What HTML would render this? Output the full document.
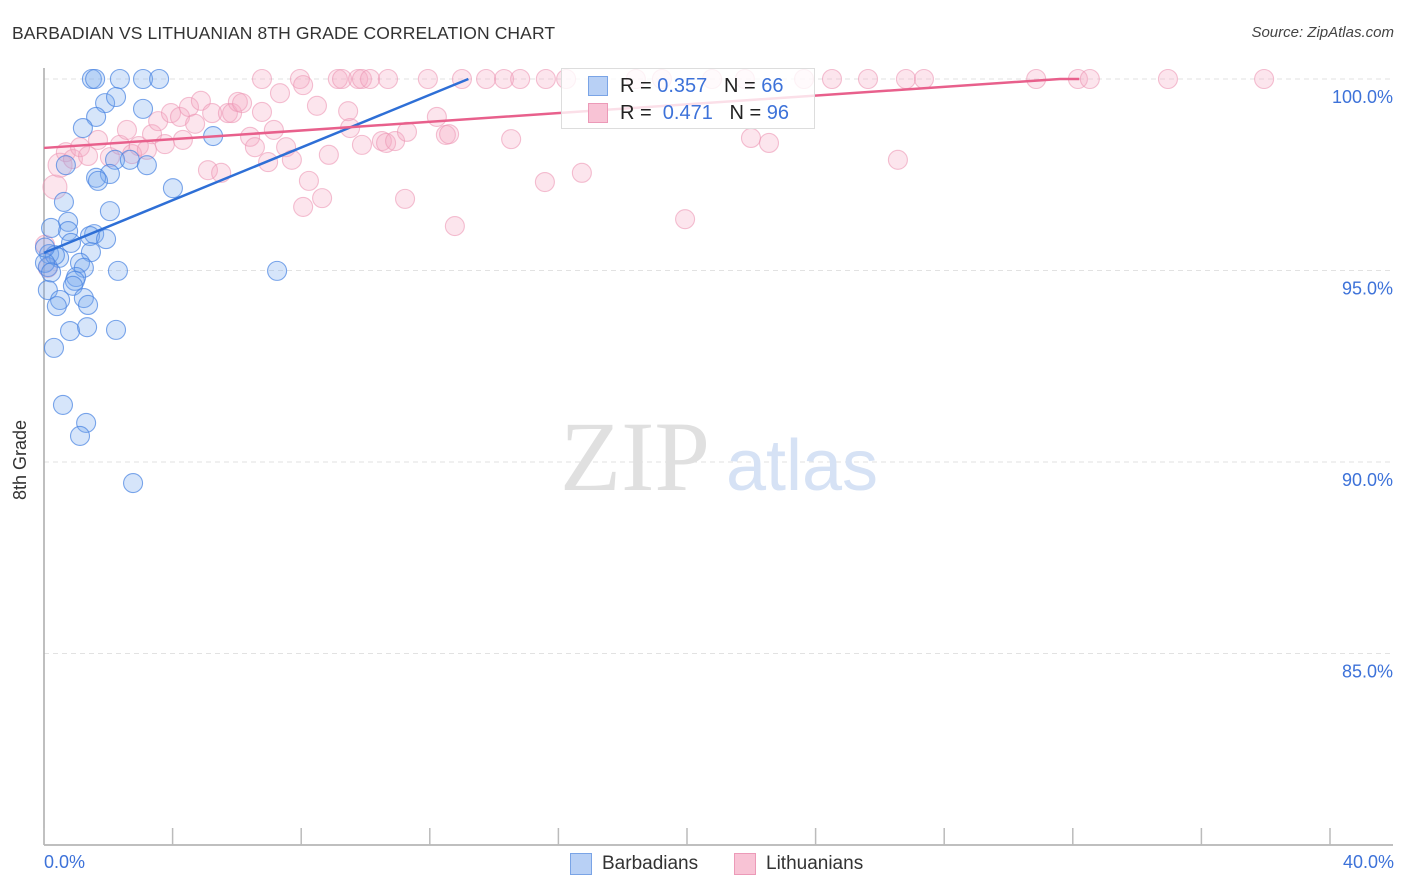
<!DOCTYPE html>
<html><head><meta charset="utf-8">
<style>
body{margin:0;background:#fff;font-family:"Liberation Sans",sans-serif;}
#wrap{position:relative;width:1406px;height:892px;overflow:hidden;}
.t{position:absolute;white-space:nowrap;}
</style></head>
<body>
<div id="wrap">
<div class="t" style="left:12px;top:23px;font-size:17.5px;color:#333;letter-spacing:0.1px">BARBADIAN VS LITHUANIAN 8TH GRADE CORRELATION CHART</div>
<div class="t" style="right:12px;top:24px;font-size:15px;color:#444;font-style:italic">Source: ZipAtlas.com</div>
<svg id="svg" width="1406" height="892" style="position:absolute;left:0;top:0"></svg>
</div>
<script>
const bx=[1.49,1.59,2.36,3.08,3.58,1.90,2.24,3.08,1.62,1.21,5.26,2.21,2.67,3.20,0.68,2.05,1.62,1.68,4.01,0.62,2.05,0.22,0.75,0.75,1.56,1.43,1.93,0.84,1.46,0.16,0.47,1.12,0.12,1.24,2.30,7.25,1.00,0.96,0.90,0.12,1.24,0.50,0.40,1.37,0.81,1.34,2.24,0.31,0.59,1.31,1.12,2.77,0.34,0.03,0.22,0.03];
const by=[100,100,100,100,100,99.37,99.53,99.22,99.01,98.72,98.51,97.89,97.89,97.75,97.75,97.52,97.42,97.34,97.15,96.79,96.55,96.11,96.27,96.03,95.95,95.90,95.82,95.72,95.48,95.43,95.33,95.20,95.09,95.07,94.99,94.99,94.83,94.73,94.60,94.49,94.28,94.23,94.07,94.10,93.42,93.52,93.45,92.98,91.49,91.02,90.68,89.45,95.40,95.20,94.95,95.60];
const px=[6.78,7.96,9.14,9.27,9.77,9.89,10.14,10.70,11.94,13.00,13.75,14.31,14.81,15.61,16.24,18.41,19.22,20.78,21.80,23.64,24.51,25.63,26.81,27.37,30.86,32.16,32.53,34.96,37.95,
0.34,0.50,0.68,0.90,1.12,1.37,1.68,2.05,2.36,2.58,2.74,2.95,3.20,3.36,3.55,3.76,3.95,4.23,4.32,4.51,4.70,4.88,5.10,5.23,5.51,5.72,5.85,6.03,6.16,6.41,6.56,6.78,6.97,7.15,7.34,7.53,7.71,8.06,8.06,8.24,8.49,8.65,8.86,9.46,9.52,9.89,10.51,10.64,10.92,11.23,11.29,12.22,12.50,12.60,12.78,14.53,15.58,16.73,19.94,21.99,22.55,26.56,0.03,0.12];
const py=[100,100,100,100,100,100,100,100,100,100,100,100,100,100,100,100,100,100,100,100,100,100,100,100,100,100,100,100,100,
97.18,97.75,98.09,97.91,98.22,97.99,98.41,97.96,98.28,98.67,98.04,98.25,98.15,98.56,98.90,98.30,99.11,99.01,98.41,99.27,98.83,99.43,97.62,99.11,97.55,99.11,99.11,99.40,99.37,98.49,98.22,99.14,97.83,98.67,99.63,98.22,97.89,99.84,96.66,97.34,99.30,96.89,98.02,99.16,98.72,98.28,98.38,98.33,98.38,96.87,98.62,99.01,98.54,98.56,96.16,98.43,97.31,97.55,96.34,98.46,98.33,97.89,95.67,95.07];
const blueTrendX=[0,13.2];
const blueTrendY=[95.46,100];
const pinkTrendX=[0,31.6,32.2];
const pinkTrendY=[98.20,100,100];
const yTicks=[100,95,90,85];
const yTickLabels=["100.0%","95.0%","90.0%","85.0%"];

const X=v=>44+v/40*1286;
const Y=v=>79+(100-v)*38.3;
const svg=document.getElementById('svg');
const NS='http://www.w3.org/2000/svg';
function mk(tag,attrs){const e=document.createElementNS(NS,tag);for(const k in attrs)e.setAttribute(k,attrs[k]);svg.appendChild(e);return e;}

yTicks.forEach((t,i)=>{
  const g=mk('line',{x1:44,x2:1393,y1:Y(t),y2:Y(t),stroke:'#e2e2e2','stroke-dasharray':'5,4'});
  
  
  const tx=mk('text',{x:1393,y:Y(t)+24,'text-anchor':'end','font-size':18,fill:'#3d72d9','font-family':'Liberation Sans, sans-serif'});
  tx.textContent=yTickLabels[i];
  
  
});
let ax=mk('line',{x1:44,x2:44,y1:68,y2:845,stroke:'#aaa','stroke-width':1.5});


ax=mk('line',{x1:44,x2:1393,y1:845,y2:845,stroke:'#aaa','stroke-width':1.5});


for(let i=0;i<=10;i++){
  const tk=mk('line',{x1:X(i*4),x2:X(i*4),y1:828,y2:845,stroke:'#bbb','stroke-width':1.5});
  
  
}
let wm=mk('text',{x:635,y:490,'text-anchor':'middle','font-size':100,fill:'#e0e0e0','font-family':'Liberation Serif, serif'});
wm.textContent='ZIP';


wm=mk('text',{x:802,y:490,'text-anchor':'middle','font-size':72,fill:'#d6e2f5','font-family':'Liberation Sans, sans-serif'});
wm.textContent='atlas';



px.forEach((v,i)=>{
  const r=(i===29||i===30)?12:9.5;
  const c=mk('circle',{cx:X(v),cy:Y(py[i]),r:r,fill:'rgba(246,170,196,0.3)',stroke:'rgba(236,150,180,0.6)','stroke-width':1.1});
  
  
});
bx.forEach((v,i)=>{
  const c=mk('circle',{cx:X(v),cy:Y(by[i]),r:9.5,fill:'rgba(120,168,238,0.3)',stroke:'rgba(70,130,225,0.7)','stroke-width':1.1});
  
  
});
let tl=mk('polyline',{points:blueTrendX.map((v,i)=>X(v)+','+Y(blueTrendY[i])).join(' '),fill:'none',stroke:'#2e6fd6','stroke-width':2.5});


tl=mk('polyline',{points:pinkTrendX.map((v,i)=>X(v)+','+Y(pinkTrendY[i])).join(' '),fill:'none',stroke:'#e8608c','stroke-width':2.5});


</script>
<div class="t" style="left:561px;top:68px;width:254px;height:61px;background:rgba(255,255,255,0.8);border:1px solid #ddd;box-sizing:border-box">
 <div style="position:absolute;left:26px;top:7px;width:20px;height:20px;background:#b8d0f5;border:1px solid #7aa4e6;box-sizing:border-box"></div>
 <div class="t" style="left:58px;top:6px;font-size:20px;color:#222">R = <span style="color:#3d72d9">0.357</span>&nbsp;&nbsp; N = <span style="color:#3d72d9">66</span></div>
 <div style="position:absolute;left:26px;top:34px;width:20px;height:20px;background:#f8c3d5;border:1px solid #ec9ab8;box-sizing:border-box"></div>
 <div class="t" style="left:58px;top:33px;font-size:20px;color:#222">R = &nbsp;<span style="color:#3d72d9">0.471</span>&nbsp;&nbsp; N = <span style="color:#3d72d9">96</span></div>
</div>
<div class="t" style="left:10px;top:500px;transform:rotate(-90deg);transform-origin:left top;font-size:18px;color:#333">8th Grade</div>
<div class="t" style="left:44px;top:852px;font-size:18px;color:#3d72d9">0.0%</div>
<div class="t" style="right:12px;top:852px;font-size:18px;color:#3d72d9">40.0%</div>
<div class="t" style="left:570px;top:853px;width:22px;height:22px;background:#b8d0f5;border:1px solid #7aa4e6;box-sizing:border-box"></div>
<div class="t" style="left:602px;top:853px;font-size:19px;color:#333">Barbadians</div>
<div class="t" style="left:734px;top:853px;width:22px;height:22px;background:#f8c3d5;border:1px solid #ec9ab8;box-sizing:border-box"></div>
<div class="t" style="left:766px;top:853px;font-size:19px;color:#333">Lithuanians</div>
</body></html>
